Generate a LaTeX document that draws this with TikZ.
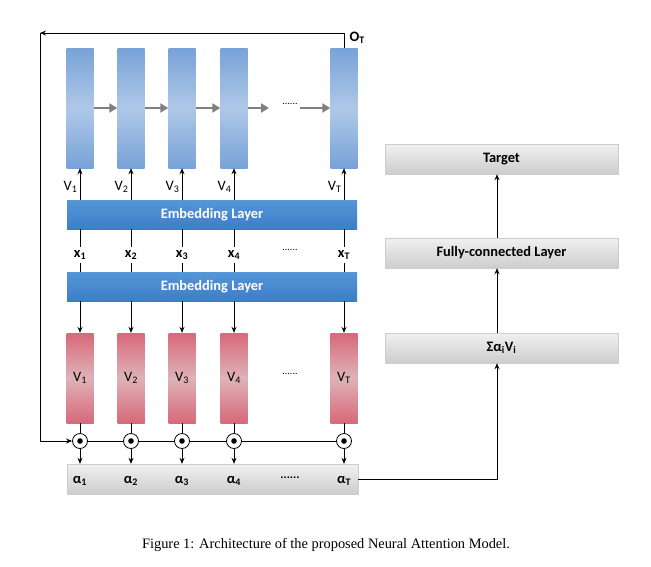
\documentclass[tikz,border=0pt]{standalone}
\usepackage{fontspec}
\setmainfont{Carlito}
\newfontfamily\capfont{Liberation Serif}
\usetikzlibrary{arrows.meta}
\definecolor{bcolE}{RGB}{120,162,215}
\definecolor{bcolM}{RGB}{175,200,232}
\definecolor{embE}{RGB}{60,125,200}
\definecolor{embM}{RGB}{85,150,215}
\definecolor{rcolE}{RGB}{215,105,120}
\definecolor{rcolM}{RGB}{222,178,184}
\definecolor{gE}{RGB}{205,205,205}
\definecolor{gM}{RGB}{240,240,240}
\begin{document}
\begin{tikzpicture}[x=1pt,y=-1pt,
 blue/.style={rectangle,minimum width=27pt,minimum height=120pt,top color=bcolE,bottom color=bcolE,middle color=bcolM,inner sep=0},
 red/.style={rectangle,minimum width=27pt,minimum height=90pt,top color=rcolE,bottom color=rcolE,middle color=rcolM,inner sep=0,font=\Large},
 emb/.style={rectangle,minimum width=290pt,minimum height=29pt,top color=embM,bottom color=embE,text=white,font=\Large\bfseries},
 gbox/.style={rectangle,minimum height=30pt,top color=gM,bottom color=gE,draw=gE,font=\Large\bfseries},
 dot/.style={circle,draw,thick,fill=white,minimum size=15pt,inner sep=0},
 arr/.style={-{Stealth[length=6pt,width=5pt]},line width=1pt},
 garr/.style={-{Triangle[length=8pt,width=9pt]},line width=2.8pt,draw=gray},
 lab/.style={font=\Large},
 blab/.style={font=\Large\bfseries}]
\useasboundingbox (0,0) rectangle (651,566);
\fill[white] (0,0) rectangle (651,566);
% columns
\foreach \i/\x in {1/80,2/131,3/182,4/234,T/344}{
  \node[blue] (b\i) at (\x,108) {};
  \node[red] (r\i) at (\x,378) {V\textsubscript{\i}};
  \node[dot] (c\i) at (\x,441) {};
  \fill (c\i) circle (2.8pt);
  \node[blab] (x\i) at (\x,255) {x\textsubscript{\i}};
}
\node[emb] (e1) at (212,214.5) {Embedding Layer};
\node[emb] (e2) at (212,286.5) {Embedding Layer};
\node[gbox,minimum width=291pt] (al) at (212.5,479) {};
\foreach \i/\x in {1/80,2/131,3/182,4/234,T/344}{
  \node[blab] at (\x,481) {α\textsubscript{\i}};
  \draw[arr] (e1.north -| b\i) -- (b\i.south);
  \node[lab,anchor=east] at (\x+1,187) {V\textsubscript{\i}};
  \draw[line width=1pt] (x\i.north |- e1.south) -- (x\i.north);
  \draw[line width=1pt] (x\i.south) -- (x\i.south |- e2.north);
  \draw[arr] (e2.south -| r\i) -- (r\i.north);
  \draw[line width=1pt] (r\i.south) -- (c\i.north);
  \draw[arr] (c\i.south) -- (c\i.south |- al.north);
}
\node[font=\normalsize] at (290,250) {......};
\node[font=\normalsize] at (290,374) {......};
\node[font=\large\bfseries] at (290,478) {......};
\foreach \a/\b in {1/2,2/3,3/4}{\draw[garr] (b\a) -- (b\b);}
\draw[garr] (b4.east) -- (269,108);
\node[font=\normalsize] (gd) at (290,104) {......};
\coordinate (g2) at (300,108);
\draw[garr] (g2) -- (b4.east -| bT.west);
\foreach \a/\b in {1/2,2/3,3/4}{\draw[line width=1pt] (c\a) -- (c\b);}
\draw[line width=1pt] (c4) -- (cT);
% feedback
\coordinate (top) at (344,33);
\coordinate (lt) at (40,33);
\coordinate (lb) at (40,441);
\draw[line width=1pt] (lb) -- (lt);
\draw[arr] (bT.north) -- (top) -- (lt);
\draw[arr] (lb) -- (c1.west);
\node[blab,anchor=west] at (346,38) {O\textsubscript{T}};
% right
\node[gbox,minimum width=233pt] (tg) at (501.5,159) {Target};
\node[gbox,minimum width=233pt] (fc) at (501.5,253) {Fully-connected Layer};
\node[gbox,minimum width=233pt] (sm) at (501.5,348) {Σα\textsubscript{i}V\textsubscript{i}};
\coordinate (cr) at (497,479);
\draw[arr] (al.east) -- (cr) -- (cr |- sm.south);
\draw[arr] (sm.north -| cr) -- (cr |- fc.south);
\draw[arr] (fc.north -| cr) -- (cr |- tg.south);
\node[font=\capfont\Large] at (326,545) {Figure 1: Architecture of the proposed Neural Attention Model.};
\end{tikzpicture}
\end{document}
